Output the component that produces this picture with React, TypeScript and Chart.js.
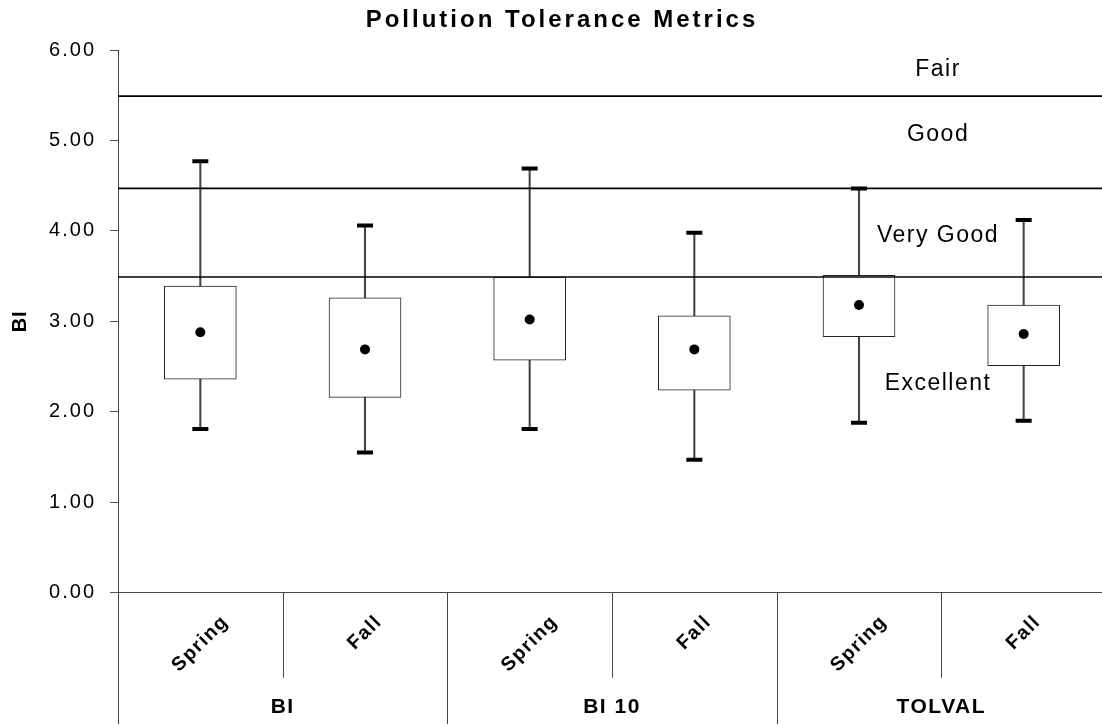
import React, { useEffect, useRef } from "react";
import { Chart, registerables } from "chart.js";

Chart.register(...registerables);

// ---- data ----
const categories = ["Spring", "Fall", "Spring", "Fall", "Spring", "Fall"];
const groups = ["BI", "BI 10", "TOLVAL"];
const boxLow = [2.36, 2.16, 2.57, 2.24, 2.83, 2.51];
const boxHigh = [3.39, 3.26, 3.49, 3.06, 3.51, 3.18];
const whiskerMax = [4.77, 4.06, 4.69, 3.98, 4.47, 4.12];
const whiskerMin = [1.81, 1.55, 1.81, 1.47, 1.88, 1.9];
const means = [2.88, 2.69, 3.02, 2.69, 3.18, 2.86];
const thresholds = [5.49, 4.47, 3.49];
const zoneLabels = ["Fair", "Good", "Very Good", "Excellent"];
const zoneLabelLevels = [5.78, 5.06, 3.95, 2.31];
const yTickValues = [0, 1, 2, 3, 4, 5, 6];
const chartTitle = "Pollution Tolerance Metrics";
const yTitle = "BI";

const FONT = "'Liberation Sans', Arial, sans-serif";

const overlayPlugin = {
  id: "overlay",
  beforeDraw(chart: any) {
    (chart.ctx as any).letterSpacing = "2px";
  },
  afterDatasetsDraw(chart: any) {
    const { ctx, chartArea: a, scales } = chart;
    const y = scales.y;
    ctx.save();
    ctx.strokeStyle = "#000";
    ctx.lineWidth = 1.6;
    thresholds.forEach((v) => {
      const py = y.getPixelForValue(v);
      ctx.beginPath();
      ctx.moveTo(a.left, py);
      ctx.lineTo(a.right, py);
      ctx.stroke();
    });
    ctx.restore();
  },
  afterDraw(chart: any) {
    const { ctx, chartArea: a, scales } = chart;
    const x = scales.x;
    const y = scales.y;
    const H = chart.height;
    ctx.save();
    ctx.fillStyle = "#000";

    // title
    ctx.letterSpacing = "3px";
    ctx.font = `bold 24px ${FONT}`;
    ctx.textAlign = "center";
    ctx.textBaseline = "middle";
    ctx.fillText(chartTitle, 562, 20);

    // y title
    ctx.letterSpacing = "1px";
    ctx.save();
    ctx.translate(20, (a.top + a.bottom) / 2);
    ctx.rotate(-Math.PI / 2);
    ctx.font = `bold 20px ${FONT}`;
    ctx.fillText(yTitle, 0, 0);
    ctx.restore();

    // zone labels
    ctx.letterSpacing = "1.5px";
    ctx.font = `23px ${FONT}`;
    const zx = a.left + (a.right - a.left) * 0.83;
    zoneLabels.forEach((t, i) => {
      ctx.fillText(t, zx, y.getPixelForValue(zoneLabelLevels[i]));
    });

    // separators below axis
    ctx.strokeStyle = "#444";
    ctx.lineWidth = 1;
    const n = categories.length;
    const px = (i: number) => x.getPixelForValue(i);
    const boundaries: { x: number; full: boolean }[] = [];
    boundaries.push({ x: a.left, full: true });
    for (let i = 0; i < n - 1; i++) {
      boundaries.push({ x: (px(i) + px(i + 1)) / 2, full: i % 2 === 1 });
    }
    boundaries.push({ x: a.right, full: true });
    boundaries.forEach((b) => {
      const bx = Math.round(b.x) + 0.5;
      ctx.beginPath();
      ctx.moveTo(bx, a.bottom);
      ctx.lineTo(bx, b.full ? H - 2 : a.bottom + 85);
      ctx.stroke();
    });

    // rotated category labels
    ctx.letterSpacing = "1.5px";
    ctx.font = `bold 19.5px ${FONT}`;
    ctx.textAlign = "center";
    ctx.textBaseline = "middle";
    categories.forEach((c, i) => {
      const w = ctx.measureText(c).width;
      const cx = px(i);
      const cy = a.bottom + 20 + (w + 17) / (2 * Math.SQRT2);
      ctx.save();
      ctx.translate(cx, cy);
      ctx.rotate(-Math.PI / 4);
      ctx.fillText(c, 0, 0);
      ctx.restore();
    });

    // group labels
    ctx.letterSpacing = "1.5px";
    ctx.font = `bold 21px ${FONT}`;
    groups.forEach((g, gi) => {
      const cx = (px(gi * 2) + px(gi * 2 + 1)) / 2;
      ctx.fillText(g, cx, a.bottom + 115);
    });

    ctx.restore();
  },
};

export default function App() {
  const ref = useRef<HTMLCanvasElement>(null);

  useEffect(() => {
    if (!ref.current) return;
    Chart.defaults.font.family = FONT;
    Chart.defaults.color = "#000";
    const chart = new Chart(ref.current, {
      type: "bar",
      data: {
        labels: categories,
        datasets: [
          {
            type: "line",
            label: "Mean",
            data: means,
            showLine: false,
            pointStyle: "circle",
            pointRadius: 5,
            pointBackgroundColor: "#000",
            pointBorderWidth: 0,
            order: 0,
          } as any,
          {
            type: "line",
            label: "Max",
            data: whiskerMax,
            showLine: false,
            pointStyle: "line",
            pointRadius: 8,
            pointBorderColor: "#000",
            pointBorderWidth: 4,
            order: 0,
          } as any,
          {
            type: "line",
            label: "Min",
            data: whiskerMin,
            showLine: false,
            pointStyle: "line",
            pointRadius: 8,
            pointBorderColor: "#000",
            pointBorderWidth: 4,
            order: 0,
          } as any,
          {
            type: "bar",
            label: "Box",
            data: boxLow.map((l, i) => [l, boxHigh[i]]),
            backgroundColor: "#fff",
            borderColor: "#222",
            borderWidth: 1,
            borderSkipped: false,
            barThickness: 72,
            grouped: false,
            order: 1,
          } as any,
          {
            type: "bar",
            label: "Whisker",
            data: whiskerMin.map((l, i) => [l, whiskerMax[i]]),
            backgroundColor: "#444",
            borderWidth: 0,
            barThickness: 1.4,
            grouped: false,
            order: 2,
          } as any,
        ],
      },
      options: {
        responsive: false,
        animation: false,
        devicePixelRatio: 1,
        layout: { autoPadding: false, padding: { top: 50, left: 0, right: 0, bottom: 0 } },
        plugins: {
          legend: { display: false },
          tooltip: { enabled: false },
          title: { display: false },
        },
        scales: {
          x: {
            type: "category",
            offset: true,
            ticks: { display: false },
            grid: { display: true, drawOnChartArea: false, drawTicks: false },
            border: { display: true, color: "#444", width: 1 },
            afterFit: (s: any) => {
              s.height = 133.3;
            },
          },
          y: {
            min: 0,
            max: 6,
            afterBuildTicks: (s: any) => {
              s.ticks = yTickValues.map((v) => ({ value: v }));
            },
            ticks: {
              padding: 14,
              font: { size: 20, family: FONT },
              color: "#000",
              callback: (v: any) => Number(v).toFixed(2),
            },
            grid: {
              display: true,
              drawOnChartArea: false,
              drawTicks: true,
              tickLength: 8,
              color: "#555",
            },
            border: { display: true, color: "#444", width: 1 },
            afterFit: (s: any) => {
              s.width = 118;
            },
          },
        },
      },
      plugins: [overlayPlugin],
    } as any);
    return () => chart.destroy();
  }, []);

  return (
    <div
      style={{
        position: "absolute",
        left: 0,
        top: 0,
        width: 1102,
        height: 726,
        overflow: "hidden",
        background: "#fff",
      }}
    >
      <canvas ref={ref} width={1106} height={726} style={{ display: "block" }} />
    </div>
  );
}
